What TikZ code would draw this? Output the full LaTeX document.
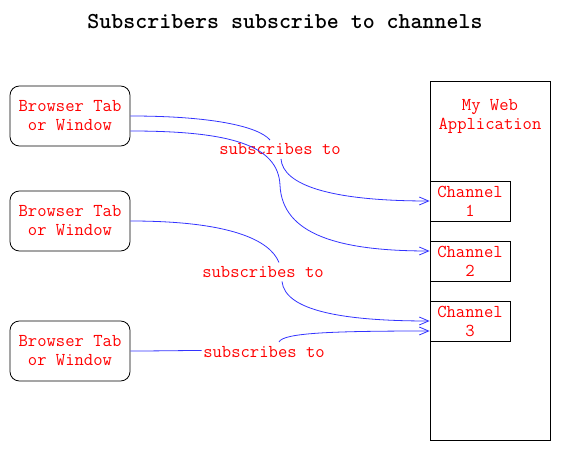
\documentclass[tikz,border=0pt]{standalone}
\usepackage{fontspec}
\usetikzlibrary{arrows.meta,calc}
\begin{document}
\begin{tikzpicture}[x=0.75pt,y=-0.75pt,
 txt/.style={text=red,font=\ttfamily\fontsize{13.6}{14.25}\selectfont},
 tab/.style={txt,draw=black,line width=0.6pt,rounded corners=7pt,minimum width=90pt,minimum height=45pt,align=center,inner sep=0pt},
 chan/.style={txt,draw=black,line width=0.6pt,minimum width=60pt,minimum height=30pt,align=center,inner sep=0pt},
 lab/.style={txt,inner sep=1pt},
 edge/.style={draw=blue!80!white,line width=0.6pt},
 arr/.style={edge,-{Straight Barb[length=7pt,width=6pt]}}
]
\useasboundingbox (0,0) rectangle (561,452);
\node[font=\ttfamily\bfseries\fontsize{17.1}{18}\selectfont] (title) at (285,21.5) {Subscribers subscribe to channels};
\node[tab] (b1) at (70,116) {Browser Tab\\or Window};
\node[tab] (b2) at (70,221) {Browser Tab\\or Window};
\node[tab] (b3) at (70,351) {Browser Tab\\or Window};
\node[draw=black,line width=0.6pt,minimum width=90pt,minimum height=269.25pt,inner sep=0pt] (app) at (490,260.5) {};
\node[txt,align=center] (apptitle) at (490,116.5) {My Web\\Application};
\node[chan] (ch1) at (470,201) {Channel\\1};
\node[chan] (ch2) at (470,261) {Channel\\2};
\node[chan] (ch3) at (470,321) {Channel\\3};
\node[lab] (l1) at (280,149) {subscribes to};
\node[lab] (l2) at (263,272.5) {subscribes to};
\node[lab] (l3) at (264,352) {subscribes to};
% edge 1
\draw[edge] (b1.east) .. controls (210,116) and (258,126) .. ($(l1.center)+(-10,-9)$);
\draw[arr] ($(l1.center)+(1,10)$) .. controls (283,185) and (330,201) .. (ch1.west);
% edge 2
\draw[arr] ($(b1.east)+(0,15)$) .. controls (230,131) and (278,145) .. (280,185)
  .. controls (282,235) and (340,251) .. ($(ch2.west)+(0,-10)$);
% edge 3
\draw[edge] (b2.east) .. controls (230,221) and (270,240) .. ($(l2.center)+(16,-10)$);
\draw[arr] ($(l2.center)+(19,9)$) .. controls (285,310) and (340,321) .. (ch3.west);
% edge 4
\draw[edge] (b3.east) .. controls (160,351) and (180,350.5) .. ($(l3.west)+(0,-1.5)$);
\draw[arr] ($(l3.center)+(15,-10)$) .. controls (283,333) and (330,331) .. ($(ch3.west)+(0,10)$);
\end{tikzpicture}
\end{document}
